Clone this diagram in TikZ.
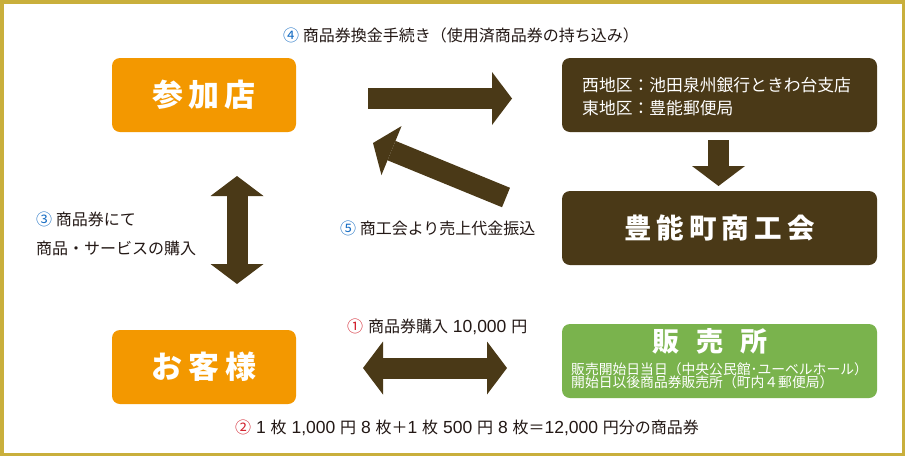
\documentclass[tikz,border=0pt]{standalone}
\usepackage{fontspec}
\usetikzlibrary{arrows.meta}
\newfontfamily\jp{Noto Sans CJK JP}
\newfontfamily\latf{Liberation Sans}
\definecolor{frameC}{HTML}{C9AF3C}
\definecolor{orangeC}{HTML}{F39800}
\definecolor{brownC}{HTML}{4A3917}
\definecolor{greenC}{HTML}{7AB34D}
\definecolor{txtC}{HTML}{231815}
\definecolor{numB}{HTML}{1A6FC4}
\definecolor{numR}{HTML}{D2202C}
\newcommand{\nb}[1]{{\color{numB}#1}}
\newcommand{\nr}[1]{{\color{numR}#1}}
\newcommand{\latn}[1]{{\latf\fontsize{17.5}{17.5}\selectfont #1}}
\begin{document}
\begin{tikzpicture}[x=1pt,y=-1pt,
  box/.style={rounded corners=8pt, inner sep=0pt, text=white},
  obox/.style={box, fill=orangeC, minimum width=184pt, minimum height=74pt, font=\jp\bfseries\fontsize{31}{31}\selectfont},
  bbox/.style={box, fill=brownC, minimum width=315pt, minimum height=74pt},
  gbox/.style={box, fill=greenC, minimum width=315pt, minimum height=74pt},
  lbl/.style={anchor=west, inner sep=0pt, text=txtC, font=\jp\fontsize{16}{16}\selectfont},
  blk/.style={draw=brownC, line width=21pt},
  tip/.style={-{Triangle[length=20pt,width=53pt,line width=0pt]}},
  dtip/.style={{Triangle[length=20pt,width=53pt,line width=0pt]}-{Triangle[length=20pt,width=53pt,line width=0pt]}}
]
\useasboundingbox (0,0) rectangle (905,456);
\fill[white] (0,0) rectangle (905,456);
\draw[frameC, line width=3.5pt] (1.75,1.75) rectangle (903.25,454.25);

% boxes
\node[obox] (shop) at (204,95) {参\hspace{5pt}加\hspace{5pt}店};
\node[obox] (cust) at (204,367) {お\hspace{6pt}客\hspace{6pt}様};
\node[bbox] (bank) at (719.5,95) {};
\node[anchor=west, inner sep=0pt, text=white, align=left,
      font=\jp\fontsize{16.8}{23}\selectfont] (banktxt) at (582,96.5)
      {西地区：池田泉州銀行ときわ台支店\\東地区：豊能郵便局};
\node[bbox, font=\jp\bfseries\fontsize{27.5}{27.5}\selectfont] (chamber) at (719.5,228)
      {豊\hspace{5pt}能\hspace{5pt}町\hspace{5pt}商\hspace{5pt}工\hspace{5pt}会};
\node[gbox] (sales) at (719.5,361) {};
\node[inner sep=0pt, text=white, font=\jp\bfseries\fontsize{27}{27}\selectfont] (salestitle) at (710,341)
      {販\hspace{17pt}売\hspace{17pt}所};
\node[anchor=north west, inner sep=0pt, text=white, align=left,
      font=\jp\fontsize{13.8}{13.4}\selectfont] (salestxt) at (571,362.5)
      {販売開始日当日（中央公民館･ユーベルホール）\\開始日以後商品券販売所（町内４郵便局）};

% arrows
\coordinate (a1s) at (368,98.5);
\coordinate (a1e) at (512,98.5);
\draw[blk,tip] (a1s) -- (a1e);
\coordinate (a5s) at (506,197.5);
\coordinate (a5e) at (373,143);
\draw[blk,tip] (a5s) -- (a5e);
\coordinate (adS) at (718.5,140);
\coordinate (adE) at (718.5,186);
\draw[blk,tip] (adS) -- (adE);
\coordinate (avT) at (237,176);
\coordinate (avB) at (237,284);
\draw[blk,dtip] (avT) -- (avB);
\coordinate (ahL) at (363,368);
\coordinate (ahR) at (507,368);
\draw[blk,dtip] (ahL) -- (ahR);

% labels
\node[lbl] (l4) at (283,35) {\nb{④} 商品券換金手続き（使用済商品券の持ち込み）};
\node[lbl] (l3a) at (36,219) {\nb{③} 商品券にて};
\node[lbl] (l3b) at (36,248) {商品・サービスの購入};
\node[lbl] (l5) at (340,228) {\nb{⑤} 商工会より売上代金振込};
\node[lbl] (l1) at (347,327) {\nr{①}\latn{ }商品券購入\latn{ 10,000 }円};
\node[lbl] (l2) at (235,428) {\nr{②}\latn{ 1 }枚\latn{ 1,000 }円\latn{ 8 }枚＋\latn{1 }枚\latn{ 500 }円\latn{ 8 }枚＝\latn{12,000 }円分の商品券};
\end{tikzpicture}
\end{document}
